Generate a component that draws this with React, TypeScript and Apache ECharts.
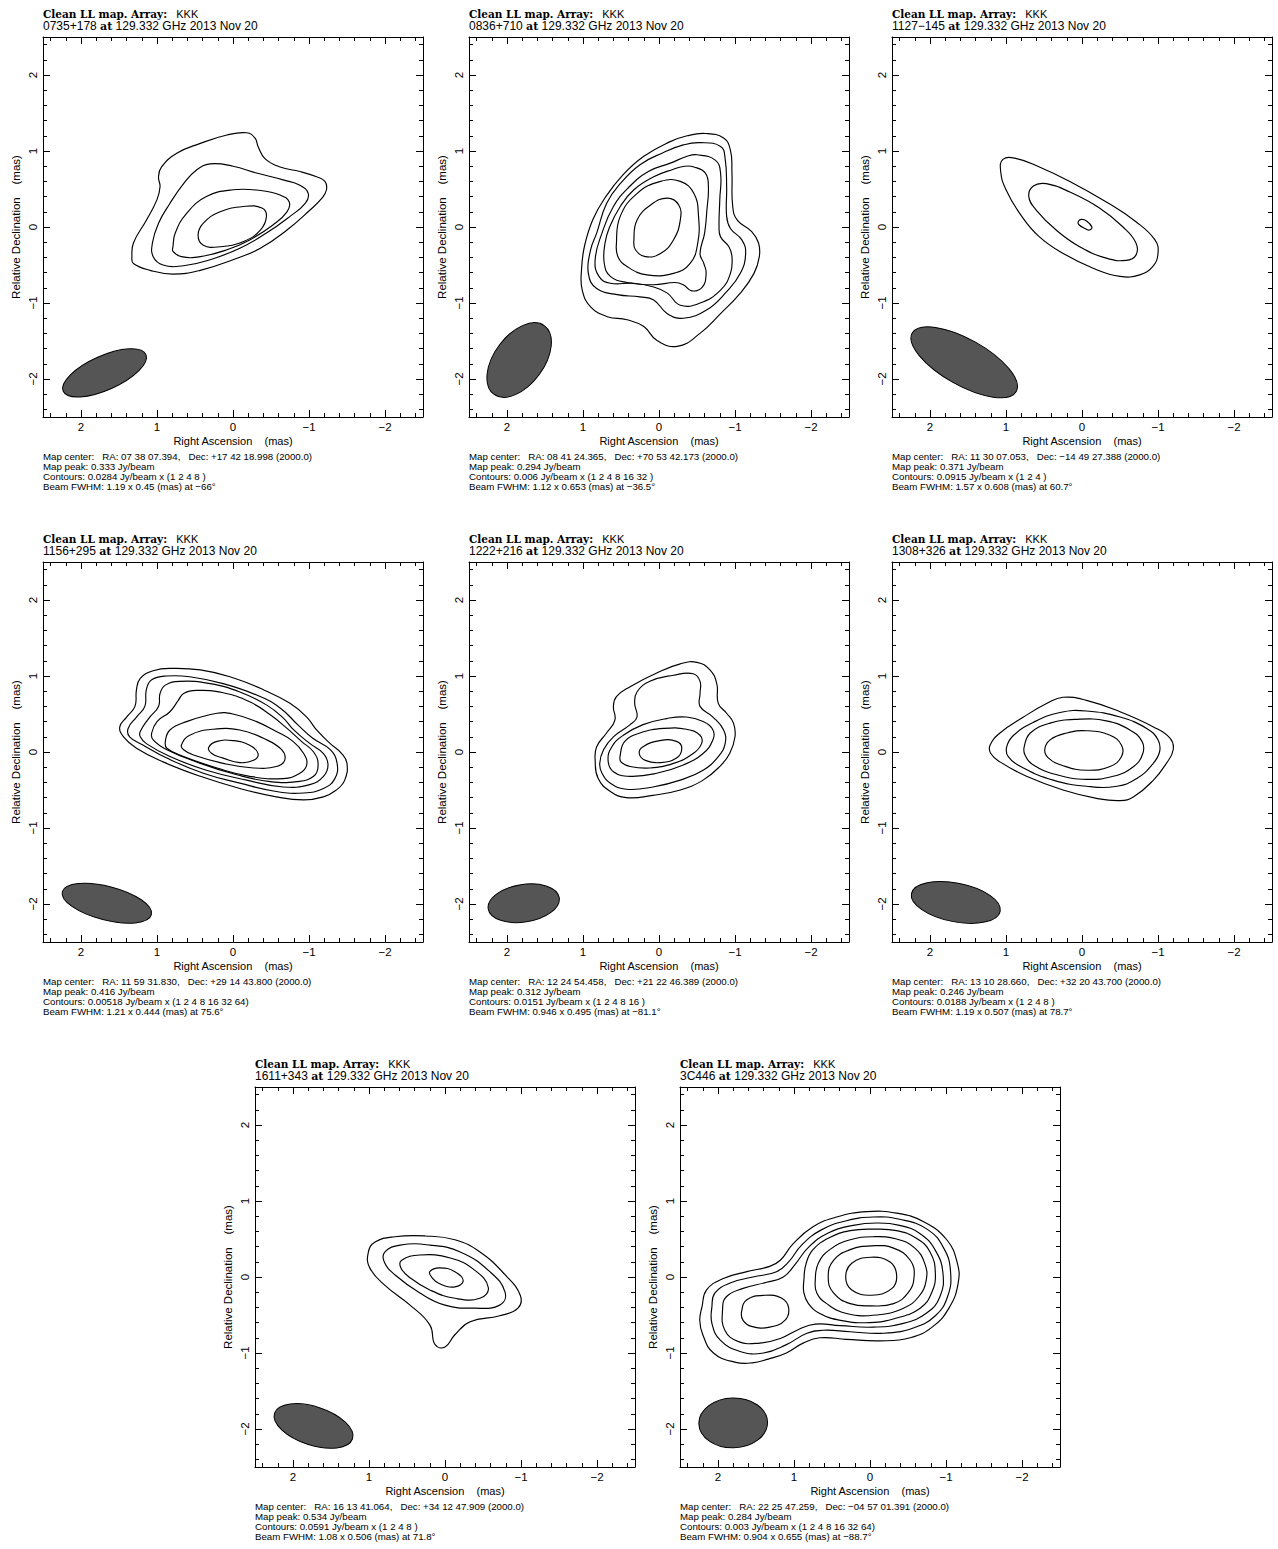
import React, { useEffect, useRef } from "react";
import * as echarts from "echarts";

type Pt = [number, number];
type Contour = Pt[];

// ---------- data ----------
const sources = ["0735+178", "0836+710", "1127\u2212145", "1156+295", "1222+216", "1308+326", "1611+343", "3C446"];
const raList = ["07 38 07.394", "08 41 24.365", "11 30 07.053", "11 59 31.830", "12 24 54.458", "13 10 28.660", "16 13 41.064", "22 25 47.259"];
const decList = ["+17 42 18.998", "+70 53 42.173", "\u221214 49 27.388", "+29 14 43.800", "+21 22 46.389", "+32 20 43.700", "+34 12 47.909", "\u221204 57 01.391"];
const mapPeaks = ["0.333", "0.294", "0.371", "0.416", "0.312", "0.246", "0.534", "0.284"];
const contourBase = ["0.0284", "0.006", "0.0915", "0.00518", "0.0151", "0.0188", "0.0591", "0.003"];
const contourLevels = ["1 2 4 8 ", "1 2 4 8 16 32 ", "1 2 4 ", "1 2 4 8 16 32 64", "1 2 4 8 16 ", "1 2 4 8 ", "1 2 4 8 ", "1 2 4 8 16 32 64"];
const beamMajor = [1.19, 1.12, 1.57, 1.21, 0.946, 1.19, 1.08, 0.904];
const beamMinor = [0.45, 0.653, 0.608, 0.444, 0.495, 0.507, 0.506, 0.655];
const beamPA = [-66, -36.5, 60.7, 75.6, -81.1, 78.7, 71.8, -88.7];
const beamX = [1.69, 1.84, 1.55, 1.66, 1.78, 1.66, 1.73, 1.8];
const beamY = [-1.92, -1.75, -1.78, -1.99, -1.99, -1.98, -1.96, -1.92];
const tickValues = [2, 1, 0, -1, -2];

const contours0735: Contour[] = [
  [[1.33,-0.39],[1.31,-0.21],[1.14,0.09],[1.0,0.36],[0.96,0.53],[0.98,0.66],[0.94,0.79],[0.74,0.97],[0.43,1.1],[0.08,1.21],[-0.18,1.24],[-0.29,1.17],[-0.33,1.06],[-0.42,0.9],[-0.62,0.79],[-0.88,0.73],[-1.1,0.66],[-1.21,0.6],[-1.23,0.49],[-1.17,0.38],[-1.01,0.22],[-0.71,-0.04],[-0.36,-0.28],[0.0,-0.43],[0.43,-0.57],[0.79,-0.62],[1.09,-0.57],[1.31,-0.48]],
  [[1.06,-0.21],[0.98,0.05],[0.83,0.31],[0.65,0.57],[0.48,0.75],[0.3,0.83],[0.0,0.8],[-0.31,0.71],[-0.66,0.62],[-0.88,0.55],[-0.99,0.44],[-0.95,0.31],[-0.75,0.14],[-0.44,-0.08],[-0.09,-0.28],[0.3,-0.43],[0.65,-0.51],[0.92,-0.5],[1.05,-0.39]],
  [[0.79,-0.26],[0.76,-0.08],[0.61,0.18],[0.35,0.4],[0.0,0.49],[-0.36,0.48],[-0.62,0.42],[-0.74,0.33],[-0.71,0.2],[-0.53,0.03],[-0.22,-0.17],[0.08,-0.3],[0.43,-0.39],[0.68,-0.39],[0.79,-0.32]],
  [[0.46,-0.11],[0.39,0.05],[0.17,0.2],[-0.14,0.27],[-0.38,0.25],[-0.44,0.14],[-0.36,-0.04],[-0.14,-0.19],[0.17,-0.26],[0.39,-0.24]],
];

const contours0836: Contour[] = [
  [[-0.61,1.23],[-0.85,1.17],[-0.94,1.01],[-0.96,0.71],[-0.97,0.27],[-1.03,0.09],[-1.22,-0.06],[-1.31,-0.21],[-1.32,-0.39],[-1.25,-0.61],[-1.07,-0.87],[-0.81,-1.14],[-0.54,-1.4],[-0.24,-1.57],[0.03,-1.49],[0.2,-1.31],[0.42,-1.22],[0.68,-1.18],[0.9,-1.05],[1.01,-0.83],[1.02,-0.57],[0.98,-0.25],[0.87,0.1],[0.7,0.4],[0.48,0.68],[0.2,0.93],[-0.14,1.12],[-0.37,1.2]],
  [[-0.54,1.11],[-0.81,1.06],[-0.87,0.9],[-0.89,0.53],[-0.89,0.14],[-0.94,-0.02],[-1.09,-0.17],[-1.14,-0.35],[-1.07,-0.61],[-0.89,-0.85],[-0.63,-1.09],[-0.32,-1.2],[-0.11,-1.14],[0.07,-0.96],[0.25,-0.92],[0.55,-0.89],[0.82,-0.81],[0.93,-0.61],[0.9,-0.3],[0.82,-0.08],[0.69,0.31],[0.51,0.57],[0.25,0.82],[-0.06,0.98],[-0.32,1.08]],
  [[-0.5,0.95],[-0.74,0.88],[-0.81,0.71],[-0.8,0.36],[-0.79,0.0],[-0.81,-0.13],[-0.92,-0.26],[-0.96,-0.39],[-0.94,-0.61],[-0.81,-0.83],[-0.54,-1.0],[-0.28,-1.03],[-0.11,-0.87],[0.07,-0.79],[0.33,-0.74],[0.64,-0.74],[0.79,-0.65],[0.84,-0.43],[0.75,-0.08],[0.6,0.27],[0.4,0.52],[0.14,0.73],[-0.15,0.84],[-0.37,0.93]],
  [[-0.46,0.79],[-0.61,0.71],[-0.65,0.53],[-0.63,0.22],[-0.6,-0.08],[-0.54,-0.35],[-0.59,-0.48],[-0.62,-0.61],[-0.57,-0.79],[-0.43,-0.84],[-0.32,-0.76],[-0.21,-0.73],[0.07,-0.76],[0.42,-0.73],[0.64,-0.65],[0.72,-0.48],[0.71,-0.21],[0.65,0.0],[0.51,0.27],[0.33,0.49],[0.07,0.66],[-0.19,0.76],[-0.34,0.8]],
  [[0.56,-0.21],[0.51,0.14],[0.29,0.44],[-0.02,0.6],[-0.28,0.6],[-0.46,0.44],[-0.52,0.14],[-0.51,-0.21],[-0.41,-0.48],[-0.19,-0.61],[0.16,-0.63],[0.42,-0.52],[0.54,-0.39]],
  [[0.33,-0.17],[0.29,0.09],[0.11,0.29],[-0.11,0.38],[-0.26,0.29],[-0.28,0.09],[-0.19,-0.17],[-0.02,-0.35],[0.18,-0.39],[0.31,-0.3]],
];

const contours1127: Contour[] = [
  [[1.04,0.89],[0.86,0.9],[0.56,0.79],[0.16,0.6],[-0.32,0.33],[-0.71,0.07],[-0.96,-0.17],[-1.0,-0.35],[-0.93,-0.52],[-0.76,-0.63],[-0.5,-0.65],[-0.14,-0.54],[0.21,-0.37],[0.56,-0.13],[0.82,0.18],[1.0,0.49],[1.07,0.73]],
  [[0.64,0.54],[0.47,0.57],[0.16,0.46],[-0.23,0.25],[-0.54,0.0],[-0.71,-0.21],[-0.71,-0.37],[-0.58,-0.44],[-0.32,-0.41],[0.03,-0.26],[0.34,-0.04],[0.6,0.22],[0.7,0.4]],
  [[0.05,0.07],[0.01,0.1],[-0.06,0.08],[-0.13,0.0],[-0.1,-0.04],[-0.04,-0.02],[0.04,0.03]],
];

const contours1156: Contour[] = [
  [[1.49,0.33],[1.4,0.46],[1.29,0.6],[1.27,0.82],[1.22,0.97],[1.05,1.07],[0.79,1.1],[0.43,1.08],[0.04,0.99],[-0.4,0.82],[-0.75,0.64],[-0.97,0.46],[-1.1,0.29],[-1.28,0.11],[-1.43,-0.02],[-1.5,-0.15],[-1.47,-0.37],[-1.36,-0.5],[-1.19,-0.59],[-0.93,-0.63],[-0.57,-0.59],[-0.09,-0.48],[0.43,-0.32],[0.92,-0.13],[1.27,0.05],[1.44,0.2]],
  [[1.38,0.31],[1.27,0.46],[1.16,0.6],[1.14,0.82],[1.07,0.95],[0.87,1.0],[0.57,0.99],[0.13,0.9],[-0.31,0.75],[-0.62,0.58],[-0.85,0.36],[-1.05,0.18],[-1.28,0.03],[-1.37,-0.15],[-1.34,-0.35],[-1.19,-0.48],[-0.93,-0.54],[-0.57,-0.52],[-0.09,-0.41],[0.39,-0.28],[0.87,-0.08],[1.18,0.09],[1.36,0.2]],
  [[1.22,0.27],[1.11,0.44],[0.98,0.6],[0.96,0.77],[0.89,0.88],[0.7,0.93],[0.3,0.9],[-0.09,0.79],[-0.44,0.62],[-0.66,0.45],[-0.8,0.29],[-1.0,0.12],[-1.19,-0.02],[-1.25,-0.17],[-1.19,-0.32],[-1.01,-0.43],[-0.66,-0.46],[-0.18,-0.37],[0.35,-0.24],[0.83,-0.06],[1.14,0.11],[1.22,0.2]],
  [[1.07,0.25],[1.0,0.4],[0.83,0.53],[0.72,0.68],[0.65,0.77],[0.48,0.81],[0.13,0.78],[-0.22,0.66],[-0.49,0.49],[-0.7,0.32],[-0.9,0.14],[-1.06,0.0],[-1.12,-0.17],[-1.06,-0.32],[-0.84,-0.39],[-0.49,-0.39],[-0.05,-0.3],[0.43,-0.15],[0.87,0.03],[1.05,0.16]],
  [[0.89,0.14],[0.83,0.29],[0.61,0.4],[0.21,0.51],[0.0,0.5],[-0.31,0.4],[-0.57,0.27],[-0.79,0.14],[-0.93,-0.02],[-0.97,-0.17],[-0.88,-0.28],[-0.66,-0.35],[-0.22,-0.32],[0.21,-0.21],[0.65,-0.06],[0.87,0.05]],
  [[0.68,0.09],[0.57,0.22],[0.26,0.3],[-0.09,0.29],[-0.4,0.18],[-0.64,0.03],[-0.68,-0.11],[-0.57,-0.19],[-0.27,-0.21],[0.13,-0.15],[0.52,-0.04],[0.65,0.03]],
  [[0.32,0.06],[0.21,0.14],[0.0,0.15],[-0.22,0.09],[-0.33,-0.02],[-0.27,-0.11],[-0.09,-0.14],[0.13,-0.08],[0.28,-0.02]],
];

const contours1222: Contour[] = [
  [[0.84,-0.11],[0.82,0.07],[0.69,0.25],[0.58,0.42],[0.6,0.6],[0.56,0.73],[0.38,0.86],[0.03,1.04],[-0.28,1.16],[-0.5,1.18],[-0.67,1.08],[-0.76,0.9],[-0.78,0.64],[-0.89,0.51],[-0.98,0.38],[-1.0,0.2],[-0.93,-0.02],[-0.8,-0.19],[-0.58,-0.37],[-0.28,-0.5],[0.08,-0.57],[0.43,-0.6],[0.64,-0.52],[0.8,-0.35]],
  [[0.78,-0.15],[0.73,0.03],[0.6,0.2],[0.38,0.36],[0.29,0.46],[0.32,0.64],[0.29,0.79],[0.12,0.93],[-0.19,1.01],[-0.45,1.03],[-0.54,0.93],[-0.54,0.77],[-0.54,0.6],[-0.71,0.46],[-0.85,0.29],[-0.87,0.11],[-0.78,-0.06],[-0.58,-0.24],[-0.28,-0.37],[0.08,-0.46],[0.43,-0.49],[0.64,-0.41],[0.75,-0.28]],
  [[0.67,-0.11],[0.62,0.07],[0.47,0.22],[0.21,0.36],[-0.1,0.44],[-0.36,0.46],[-0.58,0.4],[-0.71,0.29],[-0.71,0.16],[-0.58,-0.02],[-0.32,-0.17],[0.03,-0.28],[0.38,-0.32],[0.6,-0.26]],
  [[0.51,-0.04],[0.45,0.14],[0.25,0.25],[-0.06,0.31],[-0.36,0.3],[-0.54,0.22],[-0.56,0.11],[-0.45,-0.02],[-0.19,-0.15],[0.12,-0.21],[0.38,-0.19],[0.5,-0.13]],
  [[0.26,-0.02],[0.21,0.07],[-0.01,0.15],[-0.23,0.14],[-0.3,0.05],[-0.23,-0.08],[-0.01,-0.14],[0.18,-0.11]],
];

const contours1308: Contour[] = [
  [[1.21,0.09],[1.08,0.25],[0.77,0.46],[0.46,0.64],[0.25,0.72],[-0.06,0.68],[-0.5,0.53],[-0.94,0.33],[-1.16,0.18],[-1.2,0.03],[-1.11,-0.15],[-0.94,-0.37],[-0.68,-0.59],[-0.5,-0.64],[-0.19,-0.61],[0.25,-0.5],[0.73,-0.32],[1.08,-0.13],[1.2,-0.02]],
  [[0.99,0.07],[0.9,0.22],[0.64,0.39],[0.29,0.52],[-0.06,0.54],[-0.5,0.46],[-0.85,0.31],[-1.0,0.16],[-1.02,0.0],[-0.92,-0.17],[-0.72,-0.35],[-0.46,-0.45],[-0.06,-0.45],[0.38,-0.37],[0.77,-0.21],[0.97,-0.06]],
  [[0.76,0.07],[0.68,0.25],[0.42,0.38],[0.07,0.43],[-0.32,0.41],[-0.63,0.29],[-0.79,0.14],[-0.8,-0.02],[-0.68,-0.19],[-0.41,-0.32],[-0.06,-0.36],[0.33,-0.3],[0.64,-0.17],[0.75,-0.04]],
  [[0.49,0.03],[0.42,0.16],[0.2,0.25],[-0.06,0.28],[-0.37,0.22],[-0.52,0.09],[-0.52,-0.06],[-0.37,-0.19],[-0.06,-0.24],[0.25,-0.18],[0.44,-0.08]],
];

const contours1611: Contour[] = [
  [[1.01,0.32],[0.92,0.46],[0.66,0.53],[0.26,0.54],[-0.13,0.49],[-0.46,0.33],[-0.79,0.03],[-0.99,-0.24],[-0.96,-0.41],[-0.72,-0.51],[-0.33,-0.59],[-0.13,-0.76],[0.0,-0.92],[0.13,-0.89],[0.2,-0.63],[0.46,-0.37],[0.79,-0.11],[0.99,0.12]],
  [[0.79,0.33],[0.59,0.42],[0.2,0.42],[-0.2,0.33],[-0.59,0.07],[-0.79,-0.2],[-0.72,-0.37],[-0.39,-0.41],[0.0,-0.37],[0.33,-0.21],[0.66,0.03],[0.8,0.2]],
  [[0.57,0.22],[0.33,0.29],[-0.07,0.25],[-0.39,0.09],[-0.57,-0.14],[-0.46,-0.28],[-0.13,-0.28],[0.2,-0.17],[0.46,-0.01],[0.58,0.12]],
  [[0.2,0.07],[0.07,0.12],[-0.13,0.07],[-0.24,-0.05],[-0.13,-0.13],[0.07,-0.09],[0.17,-0.01]],
];

const contours3C446: Contour[] = [
  [[2.21,-0.39],[2.15,-0.17],[1.93,-0.02],[1.62,0.07],[1.32,0.14],[1.18,0.22],[1.01,0.44],[0.75,0.66],[0.44,0.79],[0.04,0.86],[-0.35,0.84],[-0.7,0.73],[-1.01,0.49],[-1.15,0.18],[-1.16,-0.08],[-1.05,-0.39],[-0.83,-0.65],[-0.53,-0.8],[-0.13,-0.84],[0.31,-0.82],[0.66,-0.8],[0.88,-0.87],[1.1,-1.0],[1.34,-1.08],[1.55,-1.13],[1.78,-1.12],[2.06,-1.0],[2.2,-0.76],[2.24,-0.57]],
  [[2.08,-0.39],[2.04,-0.21],[1.84,-0.08],[1.54,0.0],[1.23,0.07],[1.07,0.2],[0.9,0.42],[0.64,0.62],[0.31,0.74],[-0.04,0.79],[-0.39,0.76],[-0.75,0.63],[-0.97,0.38],[-1.06,0.07],[-1.02,-0.26],[-0.86,-0.51],[-0.57,-0.67],[-0.18,-0.74],[0.26,-0.72],[0.61,-0.7],[0.83,-0.74],[1.1,-0.89],[1.4,-1.0],[1.71,-0.98],[1.97,-0.83],[2.08,-0.61]],
  [[1.94,-0.43],[1.89,-0.26],[1.67,-0.15],[1.36,-0.07],[1.14,0.0],[0.99,0.16],[0.81,0.39],[0.55,0.58],[0.22,0.68],[-0.09,0.71],[-0.39,0.68],[-0.66,0.57],[-0.86,0.35],[-0.96,0.05],[-0.92,-0.26],[-0.75,-0.47],[-0.44,-0.61],[-0.04,-0.66],[0.39,-0.64],[0.72,-0.62],[0.94,-0.69],[1.18,-0.81],[1.45,-0.87],[1.73,-0.85],[1.91,-0.7]],
  [[1.69,-0.46],[1.62,-0.3],[1.38,-0.24],[1.16,-0.28],[1.07,-0.41],[1.12,-0.57],[1.32,-0.66],[1.56,-0.65],[1.67,-0.57]],
  [[0.87,-0.04],[0.84,0.18],[0.75,0.36],[0.53,0.52],[0.26,0.61],[-0.04,0.63],[-0.35,0.61],[-0.61,0.51],[-0.79,0.33],[-0.86,0.05],[-0.81,-0.21],[-0.66,-0.41],[-0.35,-0.54],[0.0,-0.6],[0.39,-0.57],[0.66,-0.48],[0.81,-0.35],[0.87,-0.21]],
  [[0.72,-0.04],[0.68,0.18],[0.53,0.36],[0.26,0.49],[-0.04,0.53],[-0.35,0.5],[-0.59,0.38],[-0.72,0.18],[-0.74,-0.04],[-0.64,-0.26],[-0.44,-0.41],[-0.09,-0.5],[0.31,-0.48],[0.57,-0.35],[0.7,-0.21]],
  [[0.55,0.0],[0.48,0.22],[0.26,0.36],[-0.02,0.41],[-0.31,0.38],[-0.53,0.22],[-0.58,0.0],[-0.5,-0.21],[-0.31,-0.35],[-0.02,-0.38],[0.26,-0.35],[0.48,-0.21]],
  [[0.32,0.0],[0.24,0.18],[-0.01,0.26],[-0.26,0.2],[-0.35,0.03],[-0.29,-0.15],[-0.02,-0.24],[0.24,-0.17]],
];

const panelContours = [contours0735, contours0836, contours1127, contours1156, contours1222, contours1308, contours1611, contours3C446];

// ---------- layout ----------
const PANEL_LEFT = [43, 469, 892, 43, 469, 892, 255, 680];
const PANEL_TOP = [37, 37, 37, 562, 562, 562, 1087, 1087];
const SIZE = 380;
const SANS = "Liberation Sans, Arial, Helvetica, sans-serif";
const SERIF = "DejaVu Serif, serif";
const NB = "\u00a0";

function signed(v: number): string {
  return v < 0 ? "\u2212" + Math.abs(v) : String(v);
}

export default function App() {
  const ref = useRef<HTMLDivElement>(null);
  useEffect(() => {
    document.body.style.margin = "0";
    const chart = echarts.init(ref.current as HTMLDivElement, null, { renderer: "svg" });
    const grid: any[] = [];
    const xAxis: any[] = [];
    const yAxis: any[] = [];
    const series: any[] = [];
    const elements: any[] = [];
    const tickLabel = (v: number) => (tickValues.indexOf(v) >= 0 ? signed(v) : "");
    const axisCommon = {
      type: "value",
      min: -2.5,
      max: 2.5,
      splitNumber: 5,
      axisLine: { show: true, onZero: false, lineStyle: { color: "#000", width: 1 } },
      axisTick: { show: true, inside: true, length: 7, lineStyle: { color: "#000", width: 1 } },
      minorTick: { show: true, splitNumber: 5, length: 4, lineStyle: { color: "#000", width: 1 } },
      splitLine: { show: false },
      minorSplitLine: { show: false },
    };
    const labelStyle = { color: "#000", fontSize: 11.5, fontFamily: SANS, formatter: tickLabel };

    for (let i = 0; i < 8; i++) {
      const L = PANEL_LEFT[i];
      const T = PANEL_TOP[i];
      grid.push({ left: L, top: T, width: SIZE, height: SIZE, show: false, containLabel: false, outerBoundsMode: "none" });
      xAxis.push({
        ...axisCommon, gridIndex: i, inverse: true, position: "bottom",
        axisLabel: { ...labelStyle, margin: 4 },
        name: "Right Ascension" + NB + NB + NB + NB + "(mas)", nameLocation: "middle", nameGap: 18,
        nameTextStyle: { color: "#000", fontSize: 11, fontFamily: SANS },
      });
      xAxis.push({ ...axisCommon, gridIndex: i, inverse: true, position: "top", axisLabel: { show: false } });
      yAxis.push({
        ...axisCommon, gridIndex: i, position: "left",
        axisLabel: { ...labelStyle, rotate: 90, margin: 4 },
        name: "Relative Declination" + NB + NB + NB + NB + "(mas)", nameLocation: "middle", nameGap: 21, nameRotate: 90,
        nameTextStyle: { color: "#000", fontSize: 11.5, fontFamily: SANS },
      });
      yAxis.push({ ...axisCommon, gridIndex: i, position: "right", axisLabel: { show: false } });

      const cs = panelContours[i];
      series.push({
        type: "custom",
        coordinateSystem: "cartesian2d",
        xAxisIndex: 2 * i,
        yAxisIndex: 2 * i,
        silent: true,
        data: cs.map((c, k) => [c[0][0], c[0][1], k]),
        encode: { x: 0, y: 1 },
        renderItem: (_p: any, api: any) => {
          const c = cs[api.value(2) as number];
          return {
            type: "polygon",
            shape: { points: c.map((p) => api.coord(p)), smooth: 0.45 },
            style: { fill: "none", stroke: "#000", lineWidth: 1.15 },
          };
        },
      });
      series.push({
        type: "custom",
        coordinateSystem: "cartesian2d",
        xAxisIndex: 2 * i,
        yAxisIndex: 2 * i,
        silent: true,
        data: [[beamX[i], beamY[i], beamMajor[i], beamMinor[i], beamPA[i]]],
        encode: { x: 0, y: 1 },
        renderItem: (_p: any, api: any) => {
          const c = api.coord([api.value(0), api.value(1)]);
          const s = api.size([api.value(2), api.value(3)]);
          return {
            type: "ellipse",
            x: c[0],
            y: c[1],
            rotation: ((90 + (api.value(4) as number)) * Math.PI) / 180,
            shape: { cx: 0, cy: 0, rx: Math.abs(s[0]) / 2, ry: Math.abs(s[1]) / 2 },
            style: { fill: "#555555", stroke: "#000", lineWidth: 1 },
          };
        },
      });

      // titles
      elements.push({
        type: "text", x: L, y: T - 23, silent: true,
        style: {
          text: "{b|Clean LL map." + NB + "Array:}{s|" + NB + NB + NB + "KKK}",
          rich: {
            b: { fontFamily: SERIF, fontWeight: "bold", fontSize: 10.5, fill: "#000", color: "#000" },
            s: { fontFamily: SANS, fontSize: 11, fill: "#000", color: "#000" },
          },
          fill: "#000", verticalAlign: "middle", textVerticalAlign: "middle",
        },
      });
      elements.push({
        type: "text", x: L, y: T - 11, silent: true,
        style: {
          text: "{s|" + sources[i] + NB + "}{b|at}{s|" + NB + "129.332 GHz 2013 Nov 20}",
          rich: {
            b: { fontFamily: SERIF, fontWeight: "bold", fontSize: 11, fill: "#000", color: "#000" },
            s: { fontFamily: SANS, fontSize: 12, fill: "#000", color: "#000" },
          },
          fill: "#000", verticalAlign: "middle", textVerticalAlign: "middle",
        },
      });
      const info = [
        "Map center:" + NB + NB + NB + "RA: " + raList[i] + "," + NB + NB + NB + "Dec: " + decList[i] + " (2000.0)",
        "Map peak: " + mapPeaks[i] + " Jy/beam",
        "Contours: " + contourBase[i] + " Jy/beam x (" + contourLevels[i] + ")",
        "Beam FWHM: " + beamMajor[i] + " x " + beamMinor[i] + " (mas) at " + signed(beamPA[i]) + "\u00b0",
      ];
      info.forEach((t, k) => {
        elements.push({
          type: "text", x: L, y: T + 419 + 10 * k, silent: true,
          style: { text: t, fontFamily: SANS, fontSize: 9.7, fill: "#000", verticalAlign: "middle", textVerticalAlign: "middle" },
        });
      });
    }

    chart.setOption({
      animation: false,
      backgroundColor: "#fff",
      grid,
      xAxis,
      yAxis,
      series,
      graphic: { elements },
    });
    return () => chart.dispose();
  }, []);
  return <div ref={ref} style={{ width: 1278, height: 1549 }} />;
}
